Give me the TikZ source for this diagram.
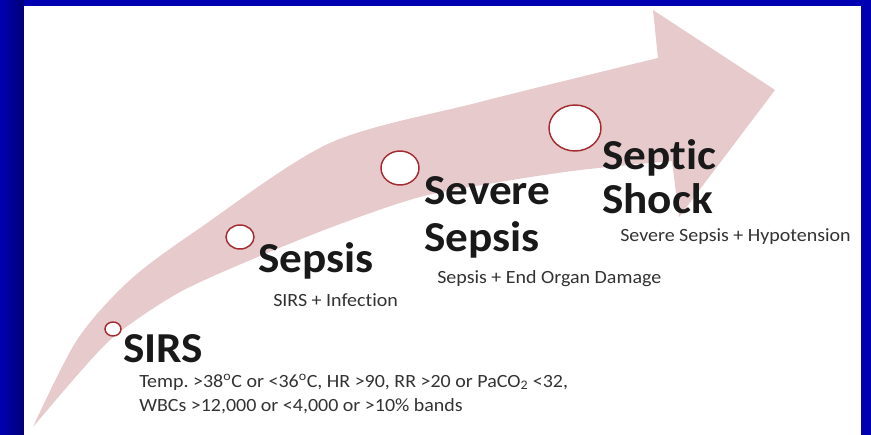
\documentclass[tikz,border=0pt]{standalone}
\usepackage{fontspec}
\setmainfont{Carlito}[Ligatures=NoCommon]
\usetikzlibrary{shapes.geometric}
\definecolor{slideblue}{RGB}{0,0,178}
\definecolor{edgeblue}{RGB}{0,0,120}
\definecolor{arrowpink}{RGB}{230,202,204}
\definecolor{ringred}{RGB}{165,45,50}
\newcommand{\wide}[2][1.06]{\scalebox{#1}[1]{#2}}
\frenchspacing

\begin{document}
\begin{tikzpicture}[x=0.75pt, y=-0.75pt,
  stage/.style={anchor=base west, inner sep=0pt, align=left, font=\bfseries\fontsize{32}{34}\selectfont, text=black!90},
  note/.style={anchor=base west, inner sep=0pt, align=left, font=\fontsize{14}{18}\selectfont, text=black!80},
  ring/.style={ellipse, draw=ringred, line width=1.1pt, fill=white, inner sep=0pt}]
  % slide background
  \fill[slideblue] (0,0) rectangle (871,435);
  \shade[left color=slideblue, right color=edgeblue] (0,0) rectangle (24,435);
  \fill[white] (24,6) rectangle (861,435);
  % the curved arrow
  \fill[arrowpink] plot[smooth] coordinates {(33,427) (77,340) (130,280) (200,228) (330,143) (480,102) (658,58)}
    -- (653,10) -- (775,90) -- (679,217) -- (672,161)
    -- plot[smooth] coordinates {(672,161) (580,170) (500,182) (420,197) (340,224) (260,256) (180,292) (117,334) (80,372) (33,427)} -- cycle;
  % stage markers
  \node[ring, minimum width=12pt, minimum height=10.5pt] (sirsdot) at (113,329) {};
  \node[ring, minimum width=21pt, minimum height=18pt] (sepsisdot) at (240,237) {};
  \node[ring, minimum width=28.5pt, minimum height=25.5pt] (severedot) at (400,168) {};
  \node[ring, minimum width=39pt, minimum height=34.5pt] (shockdot) at (575,128) {};
  % stage names and criteria (base = last line)
  \node[stage] (sirs) at (123,362) {\wide{SIRS}};
  \node[note] (sirsnote) at (139,411) {\wide[1.07]{Temp. >38\textsuperscript{o}C or <36\textsuperscript{o}C, HR >90, RR >20 or PaCO\textsubscript{2} <32,}\\
    \wide[1.07]{WBCs >12,000 or <4,000 or >10\% bands}};
  \node[stage] (sepsis) at (258,272) {\wide{Sepsis}};
  \node[note] (sepsisnote) at (273,306) {\wide[1.07]{SIRS + Infection}};
  \node[stage, font=\bfseries\fontsize{32}{35}\selectfont] (severe) at (424,251) {\wide{Severe}\\\wide{Sepsis}};
  \node[note] (severenote) at (437,283) {\wide[1.07]{Sepsis + End Organ Damage}};
  \node[stage, font=\bfseries\fontsize{32}{32.5}\selectfont] (shock) at (602,213) {\wide{Septic}\\\wide{Shock}};
  \node[note] (shocknote) at (620,241) {\wide[1.07]{Severe Sepsis + Hypotension}};
\end{tikzpicture}
\end{document}
